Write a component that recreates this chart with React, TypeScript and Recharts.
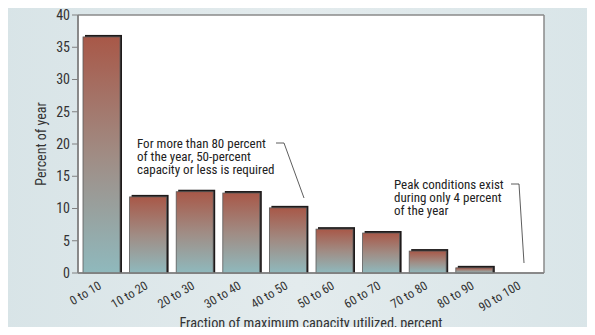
import React from "react";
import { BarChart, Bar, XAxis, YAxis, CartesianGrid } from "recharts";

const categories = [
  "0 to 10",
  "10 to 20",
  "20 to 30",
  "30 to 40",
  "40 to 50",
  "50 to 60",
  "60 to 70",
  "70 to 80",
  "80 to 90",
  "90 to 100",
];
const percentOfYear = [36.6, 11.8, 12.6, 12.4, 10.1, 6.8, 6.2, 3.4, 0.8, 0];
const yTicks = [0, 5, 10, 15, 20, 25, 30, 35, 40];

const data = categories.map((c, i) => ({ range: c, pct: percentOfYear[i] }));

const FONT = "'Liberation Sans Narrow', 'Roboto Condensed', Roboto, Arial, sans-serif";

// bar with a dark drop shadow on top/right, like the print original
function ShadowBar(props: any) {
  const { x, y, width, height } = props;
  if (!height || height <= 0) return null;
  return (
    <g>
      <rect x={x + 2} y={y - 2} width={width} height={height + 2} fill="#1e1a1a" />
      <rect x={x} y={y} width={width} height={height} fill="url(#barGrad)" stroke="#5a5a5a" strokeWidth={0.8} />
    </g>
  );
}

function XTick(props: any) {
  const { x, y, payload } = props;
  return (
    <g transform={`translate(${x + 1},${y + 7})`}>
      <text textAnchor="end" transform="rotate(-31)" fontSize={12.5} fill="#333" fontFamily={FONT}>
        {payload.value}
      </text>
    </g>
  );
}

export default function App() {
  return (
    <div
      style={{
        position: "relative",
        margin: -8,
        width: 595,
        height: 335,
        background: "linear-gradient(90deg, #d8e4e7 0%, #e3ebed 50%, #d9e5e8 100%)",
        fontFamily: FONT,
      }}
    >
      <BarChart
        width={595}
        height={335}
        data={data}
        margin={{ top: 15, right: 51, bottom: 0, left: 0 }}
        barSize={37}
      >
        <defs>
          <linearGradient id="barGrad" x1="0" y1="0" x2="0" y2="1">
            <stop offset="0%" stopColor="#a85848" />
            <stop offset="50%" stopColor="#a08c84" />
            <stop offset="100%" stopColor="#8fb9bd" />
          </linearGradient>
        </defs>
        {/* white plot panel, grey frame on all four sides */}
        <CartesianGrid
          fill="#ffffff"
          stroke="#8a8a8a"
          strokeWidth={1.5}
          horizontalCoordinatesGenerator={({ offset }: any) => [offset.top, offset.top + offset.height]}
          verticalCoordinatesGenerator={({ offset }: any) => [offset.left, offset.left + offset.width]}
        />
        <XAxis
          dataKey="range"
          height={62}
          tick={<XTick />}
          tickLine={false}
          axisLine={{ stroke: "#808080", strokeWidth: 1.5 }}
          interval={0}
          label={{
            value: "Fraction of maximum capacity utilized, percent",
            position: "insideBottom",
            offset: 7,
            fontSize: 14.3,
            fill: "#333",
            fontFamily: FONT,
          }}
        />
        <YAxis
          width={78}
          domain={[0, 40]}
          ticks={yTicks}
          interval={0}
          tick={{ fontSize: 14, fill: "#333", fontFamily: FONT }}
          tickLine={{ stroke: "#808080" }}
          tickSize={6}
          axisLine={{ stroke: "#808080", strokeWidth: 1.5 }}
          label={{
            value: "Percent of year",
            angle: -90,
            position: "insideLeft",
            offset: 41,
            fontSize: 14,
            fill: "#333",
            fontFamily: FONT,
            style: { textAnchor: "middle" },
          }}
        />
        <Bar dataKey="pct" shape={<ShadowBar />} isAnimationActive={false} />
      </BarChart>
      <svg
        width={595}
        height={335}
        style={{ position: "absolute", left: 0, top: 0, pointerEvents: "none" }}
        fontFamily={FONT}
        fontSize={13}
        fill="#222"
      >
        <text x={137} y={148}>For more than 80 percent</text>
        <text x={137} y={161}>of the year, 50-percent</text>
        <text x={137} y={174}>capacity or less is required</text>
        <polyline points="276,143 284,143 304,198" fill="none" stroke="#333" strokeWidth={0.8} />
        <text x={394} y={189}>Peak conditions exist</text>
        <text x={394} y={202}>during only 4 percent</text>
        <text x={394} y={215}>of the year</text>
        <polyline points="511,184 519,184 524,263" fill="none" stroke="#333" strokeWidth={0.8} />
      </svg>
    </div>
  );
}
